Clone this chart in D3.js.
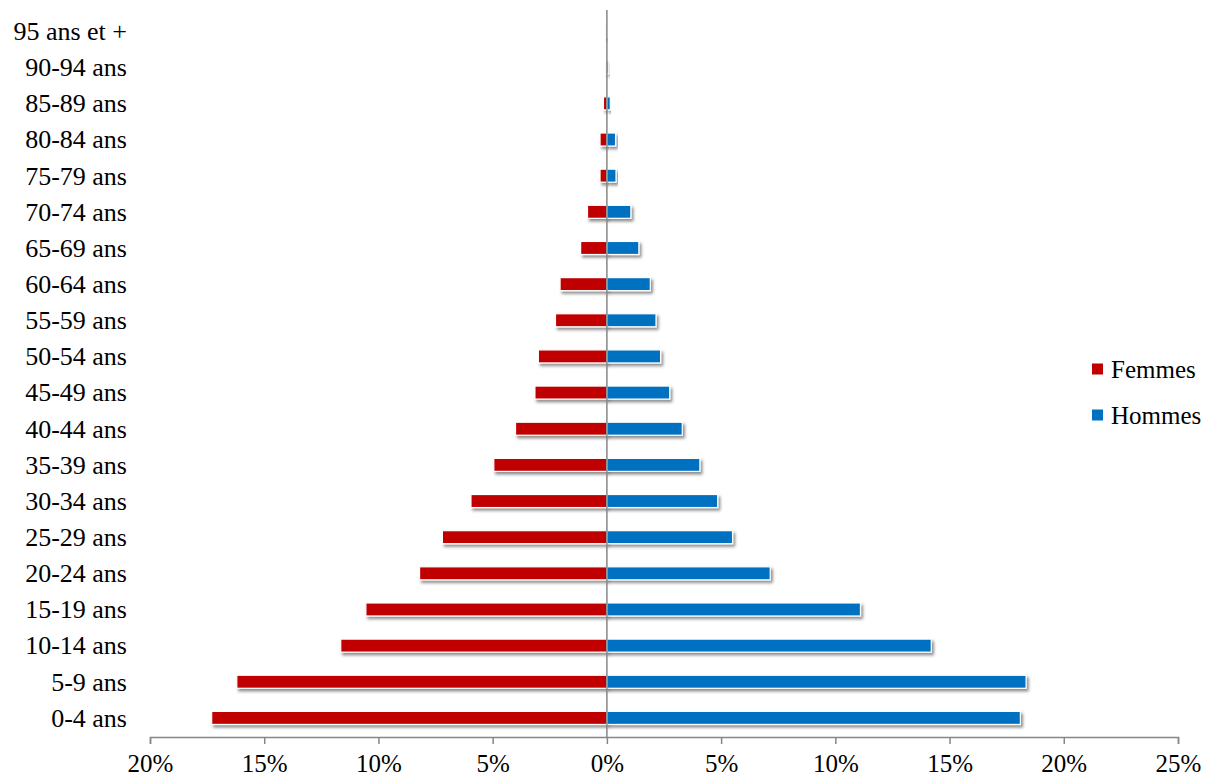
<!DOCTYPE html>
<html>
<head>
<meta charset="utf-8">
<title>Pyramide des âges</title>
<script src="https://cdn.jsdelivr.net/npm/d3@7/dist/d3.min.js"></script>
<style>
  body { margin: 0; background: #fff; }
</style>
</head>
<body>
<script>
// age groups, from the bottom of the pyramid upwards
var ages = ["0-4 ans", "5-9 ans", "10-14 ans", "15-19 ans", "20-24 ans", "25-29 ans",
            "30-34 ans", "35-39 ans", "40-44 ans", "45-49 ans", "50-54 ans", "55-59 ans",
            "60-64 ans", "65-69 ans", "70-74 ans", "75-79 ans", "80-84 ans", "85-89 ans",
            "90-94 ans", "95 ans et +"];
// share of population, %
var femmes = [17.3, 16.2, 11.65, 10.55, 8.2, 7.2, 5.95, 4.95, 4.0, 3.15,
              3.0, 2.25, 2.05, 1.15, 0.85, 0.3, 0.3, 0.15, 0.05, 0.05];
var hommes = [18.1, 18.35, 14.2, 11.1, 7.15, 5.5, 4.85, 4.07, 3.3, 2.75,
              2.35, 2.15, 1.9, 1.4, 1.05, 0.4, 0.38, 0.15, 0.08, 0.04];
var xTicks = [-20, -15, -10, -5, 0, 5, 10, 15, 20, 25];
var series = [
  { name: "Femmes", values: femmes, color: "#C00000", sign: -1 },
  { name: "Hommes", values: hommes, color: "#0070C0", sign: 1 }
];

var FONT = "'Liberation Serif'";
var width = 1207, height = 778;
var svg = d3.select("body").append("svg")
  .attr("width", width)
  .attr("height", height);

var defs = svg.append("defs");
var f = defs.append("filter").attr("id", "shadow")
  .attr("x", "-10%").attr("y", "-50%").attr("width", "130%").attr("height", "250%");
f.append("feDropShadow")
  .attr("dx", 2).attr("dy", 2.5).attr("stdDeviation", 1.6)
  .attr("flood-color", "#000").attr("flood-opacity", 0.45);

var x = d3.scaleLinear().domain([-20, 25]).range([150, 1178]);
var y = d3.scaleBand().domain(ages).range([736, 13]).paddingInner(0.64).paddingOuter(0.32);

// bars
series.forEach(function(s) {
  svg.append("g").selectAll("rect")
    .data(s.values)
    .enter().append("rect")
    .attr("x", function(d) { return s.sign < 0 ? x(-d) : x(0); })
    .attr("y", function(d, i) { return y(ages[i]); })
    .attr("width", function(d) { return Math.abs(x(d) - x(0)); })
    .attr("height", y.bandwidth())
    .attr("fill", s.color)
    .attr("stroke", "#fff")
    .attr("stroke-width", 1.2)
    .attr("filter", "url(#shadow)");
});

// x axis
var xAxis = d3.axisBottom(x)
  .tickValues(xTicks)
  .tickSize(7)
  .tickFormat(function(d) { return Math.abs(d) + "%"; });
var gx = svg.append("g")
  .attr("transform", "translate(0,737)")
  .call(xAxis);
gx.select(".domain").attr("stroke", "#868686").attr("stroke-width", 1.5);
gx.selectAll(".tick line").attr("stroke", "#868686").attr("stroke-width", 1.5);
gx.selectAll(".tick text")
  .attr("y", 35)
  .attr("dy", null)
  .attr("fill", "#000")
  .style("font-family", FONT)
  .style("font-size", "25px");

// vertical zero line
svg.append("line")
  .attr("x1", x(0)).attr("x2", x(0))
  .attr("y1", 10).attr("y2", 737)
  .attr("stroke", "#868686").attr("stroke-width", 1.5);

// age labels
svg.append("g").selectAll("text")
  .data(ages)
  .enter().append("text")
  .attr("x", 127)
  .attr("y", function(d) { return y(d) + y.bandwidth() / 2; })
  .attr("dy", "0.34em")
  .attr("text-anchor", "end")
  .attr("fill", "#000")
  .style("font-family", FONT)
  .style("font-size", "26px")
  .text(function(d) { return d; });

// legend
var legend = svg.append("g").selectAll("g")
  .data(series)
  .enter().append("g")
  .attr("transform", function(d, i) { return "translate(1092," + (369 + i * 46) + ")"; });
legend.append("rect")
  .attr("x", 0).attr("y", -5.5)
  .attr("width", 11).attr("height", 11)
  .attr("fill", function(d) { return d.color; });
legend.append("text")
  .attr("x", 19).attr("y", 0)
  .attr("dy", "0.35em")
  .attr("fill", "#000")
  .style("font-family", FONT)
  .style("font-size", "25px")
  .text(function(d) { return d.name; });
</script>
</body>
</html>
